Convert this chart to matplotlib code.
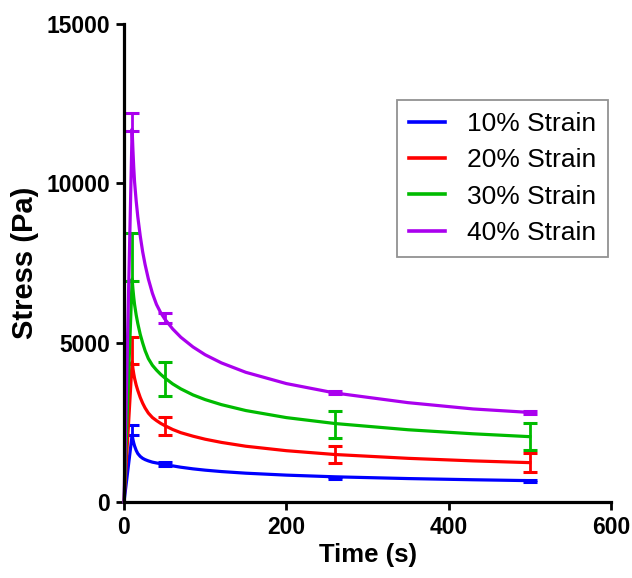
import matplotlib
matplotlib.use("Agg")
import matplotlib.pyplot as plt

plt.rcParams['font.family'] = ['Liberation Sans', 'DejaVu Sans']

# curve points (time in s, stress in Pa)
t_curve = [0, 10, 11, 12, 13, 15, 17, 20, 23, 26, 30, 35, 40, 45, 50,
           60, 70, 85, 100, 120, 150, 200, 260, 350, 430, 500]
s10 = [0, 2100, 1960, 1850, 1760, 1620, 1520, 1430, 1370, 1330, 1290, 1250, 1225, 1203, 1185,
       1133, 1091, 1040, 999, 955, 904, 843, 790, 735, 698, 670]
s20 = [0, 4400, 4190, 4025, 3885, 3670, 3500, 3280, 3100, 2950, 2790, 2650, 2555, 2470, 2400,
       2275, 2175, 2065, 1970, 1870, 1750, 1610, 1490, 1370, 1290, 1235]
s30 = [0, 7000, 6680, 6420, 6200, 5870, 5600, 5260, 4990, 4750, 4500, 4290, 4140, 4010, 3900,
       3705, 3550, 3360, 3213, 3055, 2870, 2648, 2462, 2267, 2140, 2050]
s40 = [0, 11700, 11050, 10500, 10050, 9450, 8950, 8350, 7850, 7450, 7000, 6550, 6200, 5950, 5750,
       5430, 5170, 4865, 4620, 4365, 4070, 3716, 3420, 3117, 2920, 2810]

# measured points with SD
t_meas = [10, 50, 260, 500]
m10 = [2265, 1195, 755, 660]
sd10 = [155, 50, 40, 40]
m20 = [4765, 2390, 1495, 1240]
sd20 = [425, 280, 265, 300]
m30 = [7690, 3865, 2435, 2060]
sd30 = [740, 535, 425, 425]
m40 = [11920, 5785, 3430, 2800]
sd40 = [280, 155, 50, 40]

labels = ['10% Strain', '20% Strain', '30% Strain', '40% Strain']
colors = ['#0000FF', '#FF0000', '#00BB00', '#AA00EE']

fig = plt.figure(figsize=(6.32, 5.78), dpi=100)
ax = fig.add_axes([0.1962, 0.1315, 0.7706, 0.827])

curves = [s10, s20, s30, s40]
means = [m10, m20, m30, m40]
sds = [sd10, sd20, sd30, sd40]
for s, m, sd, lab, c in zip(curves, means, sds, labels, colors):
    ax.plot(t_curve, s, color=c, linewidth=2.3, label=lab, clip_on=False,
            solid_joinstyle='round')
    ax.errorbar(t_meas, m, yerr=sd, fmt='none', ecolor=c, elinewidth=2.0,
                capsize=5, capthick=2.2, clip_on=False)

ax.set_xlim(0, 600)
ax.set_ylim(0, 15000)
ax.set_xticks([0, 200, 400, 600])
ax.set_yticks([0, 5000, 10000, 15000])

for side in ['top', 'right']:
    ax.spines[side].set_visible(False)
for side in ['left', 'bottom']:
    ax.spines[side].set_linewidth(2.3)

ax.tick_params(axis='both', direction='out', length=6, width=2.0, labelsize=16.5, pad=4)
for lbl in ax.get_xticklabels() + ax.get_yticklabels():
    lbl.set_fontweight('bold')

ax.set_xlabel('Time (s)', fontsize=18.5, fontweight='bold', labelpad=3)
ax.set_ylabel('Stress (Pa)', fontsize=21, fontweight='bold', labelpad=5)

leg = ax.legend(loc='upper right', bbox_to_anchor=(0.994, 0.841), borderaxespad=0,
                fontsize=19, frameon=True, fancybox=False, handlelength=1.35,
                handletextpad=0.85, labelspacing=0.47, borderpad=0.45)
leg.get_frame().set_edgecolor('#777777')
leg.get_frame().set_linewidth(1.3)
for h in leg.get_lines():
    h.set_linewidth(2.6)

fig.savefig('out.png', dpi=100)
